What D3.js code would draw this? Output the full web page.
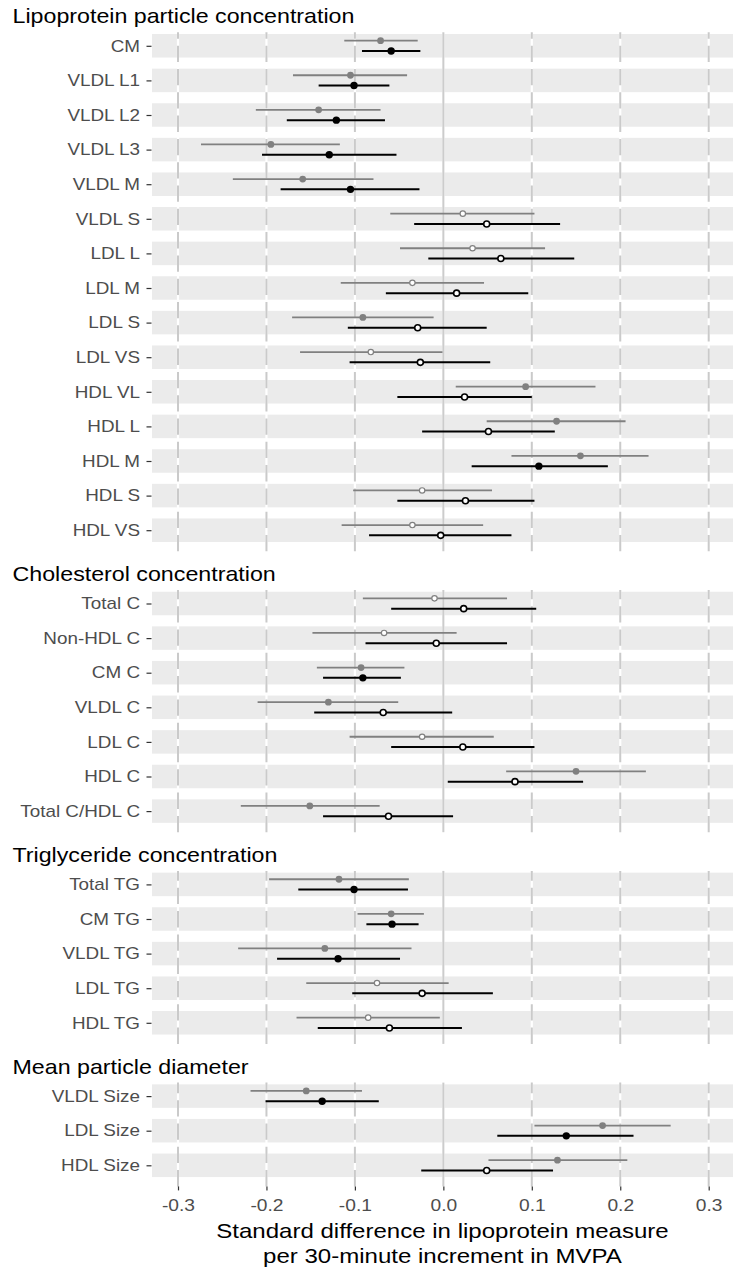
<!DOCTYPE html>
<html>
<head>
  <meta charset="utf-8">
  <script src="https://d3js.org/d3.v7.min.js"></script>
  <style>
    * { margin: 0; box-sizing: border-box; }
    body { background: #fff; }
    text { font-family: "Liberation Sans", Arial, sans-serif; }
  </style>
</head>
<body>
<script>
// panel titles and the measures in each panel
const panelTitles = ["Lipoprotein particle concentration", "Cholesterol concentration",
  "Triglyceride concentration", "Mean particle diameter"];
const measures = [
  "CM", "VLDL L1", "VLDL L2", "VLDL L3", "VLDL M", "VLDL S", "LDL L", "LDL M", "LDL S", "LDL VS",
  "HDL VL", "HDL L", "HDL M", "HDL S", "HDL VS",
  "Total C", "Non-HDL C", "CM C", "VLDL C", "LDL C", "HDL C", "Total C/HDL C",
  "Total TG", "CM TG", "VLDL TG", "LDL TG", "HDL TG",
  "VLDL Size", "LDL Size", "HDL Size"];
const measurePanel = [0,0,0,0,0,0,0,0,0,0,0,0,0,0,0, 1,1,1,1,1,1,1, 2,2,2,2,2, 3,3,3];

// grey series (upper estimate in each row)
const greyEst = [-0.071,-0.105,-0.141,-0.195,-0.159,0.022,0.033,-0.035,-0.091,-0.082,0.093,0.128,0.155,-0.024,-0.035,
  -0.010,-0.067,-0.093,-0.130,-0.024,0.150,-0.151, -0.118,-0.059,-0.134,-0.075,-0.085, -0.155,0.180,0.129];
const greyLo = [-0.112,-0.170,-0.212,-0.274,-0.238,-0.060,-0.049,-0.116,-0.171,-0.162,0.014,0.049,0.077,-0.102,-0.115,
  -0.091,-0.148,-0.143,-0.210,-0.106,0.071,-0.229, -0.197,-0.097,-0.232,-0.155,-0.166, -0.218,0.103,0.051];
const greyHi = [-0.029,-0.041,-0.071,-0.117,-0.079,0.103,0.115,0.046,-0.011,-0.001,0.172,0.206,0.232,0.055,0.045,
  0.072,0.015,-0.044,-0.051,0.057,0.229,-0.072, -0.039,-0.022,-0.036,0.006,-0.004, -0.092,0.257,0.208];
const greyFilled = [1,1,1,1,1,0,0,0,1,0,1,1,1,0,0, 0,0,1,1,0,1,1, 1,1,1,0,0, 1,1,1];

// black series (lower estimate in each row)
const blackEst = [-0.059,-0.101,-0.121,-0.129,-0.105,0.049,0.065,0.015,-0.029,-0.026,0.024,0.051,0.108,0.025,-0.003,
  0.023,-0.008,-0.091,-0.068,0.022,0.081,-0.062, -0.101,-0.058,-0.119,-0.024,-0.061, -0.137,0.139,0.049];
const blackLo = [-0.092,-0.141,-0.177,-0.205,-0.184,-0.033,-0.017,-0.065,-0.108,-0.106,-0.052,-0.024,0.032,-0.052,-0.084,
  -0.059,-0.088,-0.136,-0.146,-0.059,0.005,-0.136, -0.164,-0.087,-0.188,-0.103,-0.142, -0.201,0.061,-0.025];
const blackHi = [-0.026,-0.061,-0.066,-0.053,-0.027,0.132,0.148,0.096,0.049,0.053,0.100,0.126,0.186,0.103,0.077,
  0.105,0.072,-0.048,0.010,0.103,0.158,0.011, -0.040,-0.028,-0.049,0.056,0.021, -0.073,0.215,0.124];
const blackFilled = [1,1,1,1,1,0,0,0,0,0,0,0,1,0,0, 0,0,1,0,0,0,0, 1,1,1,0,0, 1,1,0];

const xTicks = [-0.3, -0.2, -0.1, 0.0, 0.1, 0.2, 0.3];
const xTitle = ["Standard difference in lipoprotein measure", "per 30-minute increment in MVPA"];

const width = 733, height = 1272;
const panelLeft = 152, panelRight = 733;
const rowStep = 34.6, firstTop = 32.3, panelGap = 38.7, padTop = 13.5;
const bandH = 23.5, offset = 5.15, stretch = 1.15;
const grey = "#808080";

const svg = d3.select("body").append("svg")
  .attr("width", width).attr("height", height);

const x = d3.scaleLinear().domain([-0.3, 0.3]).range([178, 708.7]);

const rows = measures.map((m, i) => ({
  name: m, panel: measurePanel[i],
  g: { est: greyEst[i], lo: greyLo[i], hi: greyHi[i], filled: greyFilled[i] },
  b: { est: blackEst[i], lo: blackLo[i], hi: blackHi[i], filled: blackFilled[i] }
}));

let panelTop = firstTop;
let lastBottom = 0;
panelTitles.forEach((title, p) => {
  const prow = rows.filter(r => r.panel === p);
  const n = prow.length;
  const pt = panelTop;
  const bottom = pt + n * rowStep;
  const y = d3.scalePoint()
    .domain(prow.map(r => r.name))
    .range([pt + padTop, pt + padTop + (n - 1) * rowStep]);

  const g = svg.append("g");

  // panel title
  g.append("text")
    .attr("transform", `translate(12.5,${pt - 9}) scale(${stretch},1)`)
    .attr("font-size", 20.2)
    .attr("fill", "#000")
    .text(title);

  // row bands
  g.selectAll(".band").data(prow).enter().append("rect")
    .attr("x", panelLeft).attr("width", panelRight - panelLeft)
    .attr("y", d => y(d.name) - bandH / 2).attr("height", bandH)
    .attr("fill", "#ebebeb");

  // white grid lines under the dashed reference lines
  g.selectAll(".grid").data(xTicks).enter().append("line")
    .attr("x1", d => x(d)).attr("x2", d => x(d))
    .attr("y1", pt).attr("y2", bottom)
    .attr("stroke", "#fff").attr("stroke-width", 2.2);

  g.selectAll(".vdash").data(xTicks.filter(t => t !== 0)).enter().append("line")
    .attr("x1", d => x(d)).attr("x2", d => x(d))
    .attr("y1", bottom).attr("y2", pt)
    .attr("stroke", "#cacaca").attr("stroke-width", 2)
    .attr("stroke-dasharray", "16.3,7");

  g.append("line")
    .attr("x1", x(0)).attr("x2", x(0))
    .attr("y1", pt).attr("y2", bottom)
    .attr("stroke", "#cccccc").attr("stroke-width", 2);

  // grey series
  g.selectAll(".gbar").data(prow).enter().append("line")
    .attr("x1", d => x(d.g.lo)).attr("x2", d => x(d.g.hi))
    .attr("y1", d => y(d.name) - offset).attr("y2", d => y(d.name) - offset)
    .attr("stroke", grey).attr("stroke-width", 1.8);
  g.selectAll(".gpt").data(prow).enter().append("circle")
    .attr("cx", d => x(d.g.est)).attr("cy", d => y(d.name) - offset)
    .attr("r", d => d.g.filled ? 3.4 : 2.7)
    .attr("fill", d => d.g.filled ? grey : "#fff")
    .attr("stroke", grey).attr("stroke-width", d => d.g.filled ? 0 : 1.2);

  // black series
  g.selectAll(".bbar").data(prow).enter().append("line")
    .attr("x1", d => x(d.b.lo)).attr("x2", d => x(d.b.hi))
    .attr("y1", d => y(d.name) + offset).attr("y2", d => y(d.name) + offset)
    .attr("stroke", "#000").attr("stroke-width", 2);
  g.selectAll(".bpt").data(prow).enter().append("circle")
    .attr("cx", d => x(d.b.est)).attr("cy", d => y(d.name) + offset)
    .attr("r", d => d.b.filled ? 3.7 : 3.0)
    .attr("fill", d => d.b.filled ? "#000" : "#fff")
    .attr("stroke", "#000").attr("stroke-width", d => d.b.filled ? 0 : 1.6);

  // y axis
  const ya = g.append("g")
    .attr("transform", `translate(${panelLeft - 0.5},0)`)
    .call(d3.axisLeft(y).tickSize(5).tickPadding(0));
  ya.select(".domain").remove();
  ya.selectAll(".tick line").attr("stroke", "#333").attr("stroke-width", 1.2);
  ya.selectAll(".tick text")
    .attr("x", -11.5 / stretch)
    .attr("transform", `scale(${stretch},1)`)
    .attr("fill", "#4d4d4d")
    .attr("font-size", 16.4)
    .attr("font-family", "Liberation Sans, Arial, sans-serif");

  lastBottom = bottom;
  panelTop = bottom + panelGap;
});

// x axis under the last panel
const xa = svg.append("g")
  .attr("transform", `translate(0,${lastBottom})`)
  .call(d3.axisBottom(x).tickValues(xTicks).tickSize(4).tickPadding(8.4)
    .tickFormat(d => d3.format(".1f")(d).replace("\u2212", "-")));
xa.select(".domain").remove();
xa.selectAll(".tick line").attr("stroke", "#333").attr("stroke-width", 1.2);
xa.selectAll(".tick text")
  .attr("transform", `scale(${stretch},1)`)
  .attr("fill", "#4d4d4d")
  .attr("font-size", 16.7)
  .attr("font-family", "Liberation Sans, Arial, sans-serif");

const cx = (panelLeft + panelRight) / 2;
xTitle.forEach((t, i) => {
  svg.append("text")
    .attr("transform", `translate(${cx},${1238.3 + i * 25}) scale(${stretch},1)`)
    .attr("text-anchor", "middle")
    .attr("font-size", 20.9)
    .attr("fill", "#000")
    .text(t);
});
</script>
</body>
</html>
